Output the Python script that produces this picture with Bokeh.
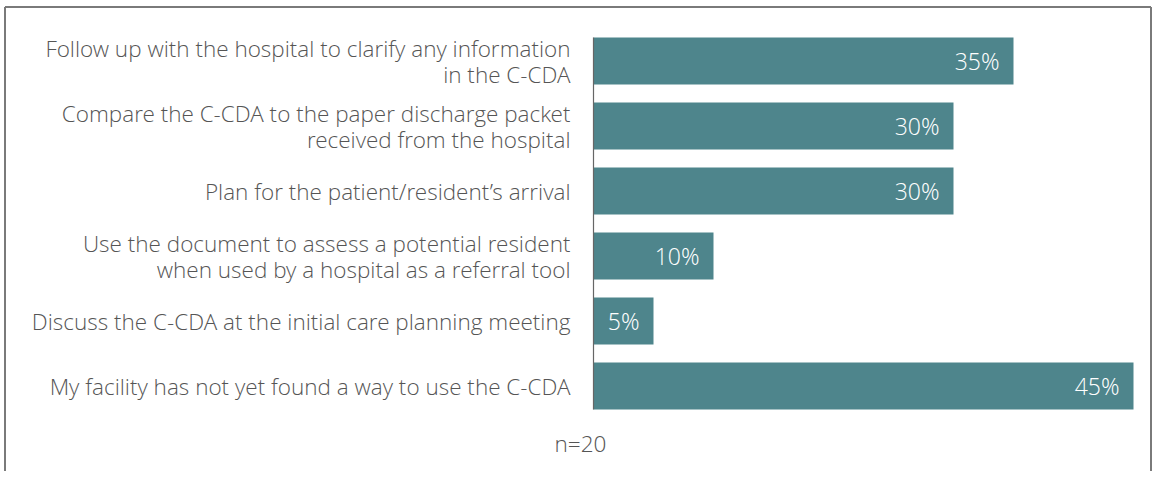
from bokeh.plotting import figure
from bokeh.models import ColumnDataSource, LabelSet, Label, Range1d
from bokeh.core.properties import value
from bokeh.embed import file_html
from bokeh.resources import INLINE

categories = [
    "Follow up with the hospital to clarify any information\nin the C-CDA",
    "Compare the C-CDA to the paper discharge packet\nreceived from the hospital",
    "Plan for the patient/resident\u2019s arrival",
    "Use the document to assess a potential resident\nwhen used by a hospital as a referral tool",
    "Discuss the C-CDA at the initial care planning meeting",
    "My facility has not yet found a way to use the C-CDA",
]
values = [35, 30, 30, 10, 5, 45]
value_labels = ["35%", "30%", "30%", "10%", "5%", "45%"]
note = "n=20"

BAR = "#4E858C"
TXT = "#555555"
FAMILY = "Open Sans Light, Open Sans"
FONT = value(FAMILY)
FS = "22.5px"
FS_VAL = "23px"

W, H = 1152, 471
PX_X = 12.0   # pixels per percent
PX_Y = 65.0   # pixels per category row
LINE_PX = 26.0
n = len(categories)
bh = 47 / PX_Y
ypos = [i + 0.5 for i in range(n)]

x0 = -593 / PX_X
x1 = x0 + W / PX_X
ytop = (ypos[0] - bh / 2) - 37 / PX_Y
ybot = ytop + H / PX_Y

src = ColumnDataSource(dict(y=ypos, v=values, vl=value_labels, zero=[0] * n))

# one entry per text line of the category labels, each right-aligned
lx, ly, lt = [], [], []
for yc, cat in zip(ypos, categories):
    lines = cat.split("\n")
    k = len(lines)
    for j, t in enumerate(lines):
        lx.append(0)
        ly.append(yc + (j - (k - 1) / 2) * LINE_PX / PX_Y)
        lt.append(t)
lsrc = ColumnDataSource(dict(x=lx, y=ly, t=lt))

p = figure(width=W, height=H, output_backend="svg", toolbar_location=None,
           x_axis_location=None, y_axis_location=None,
           x_range=Range1d(x0, x1), y_range=Range1d(ybot, ytop),
           min_border=0)
p.grid.visible = False
p.outline_line_color = None

# surrounding box (left, top, right)
bx_l = x0 + 4.5 / PX_X
bx_r = x1 - 1.5 / PX_X
by_t = ytop + 6.5 / PX_Y
p.multi_line(xs=[[bx_l, bx_l], [bx_l, bx_r], [bx_r, bx_r]],
             ys=[[ybot, by_t], [by_t, by_t], [by_t, ybot]],
             line_color="#7a7a7a", line_width=2)

p.hbar(y="y", right="v", left=0, height=bh, source=src, fill_color=BAR,
       line_color=None)

# axis line along bars
p.segment(x0=[0], y0=[ypos[0] - bh / 2], x1=[0], y1=[ypos[-1] + bh / 2],
          line_color="#666666", line_width=1.2)

p.add_layout(LabelSet(x="x", y="y", text="t", source=lsrc, x_offset=-23,
                      text_align="right", text_baseline="middle",
                      text_font=FONT, text_font_size=FS, text_color=TXT))
p.add_layout(LabelSet(x="v", y="y", text="vl", source=src, x_offset=-14,
                      text_align="right", text_baseline="middle",
                      text_font=FONT, text_font_size=FS_VAL, text_color="white"))
p.add_layout(Label(x=-13 / PX_X, y=ytop + 443 / PX_Y, text=note,
                   text_align="center", text_baseline="middle",
                   text_font=FAMILY, text_font_size=FS, text_color=TXT))

open("out.html", "w").write(file_html(p, INLINE))
